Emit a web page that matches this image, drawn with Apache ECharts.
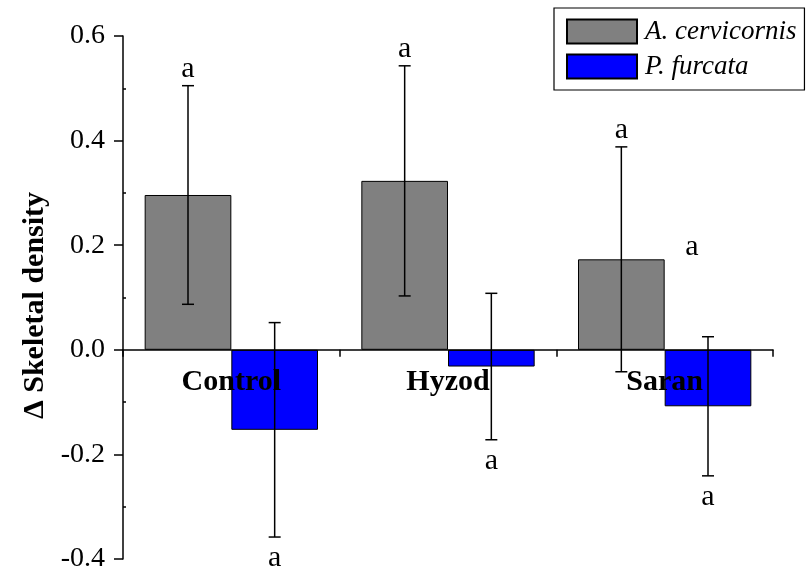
<!DOCTYPE html>
<html>
<head>
<meta charset="utf-8">
<script src="https://cdn.jsdelivr.net/npm/echarts@6/dist/echarts.min.js"></script>
<style>html,body{margin:0;padding:0;background:#fff;}#c{width:809px;height:571px;}</style>
</head>
<body>
<div id="c"></div>
<script>
const categories = ['Control', 'Hyzod', 'Saran'];
const cervicornis = [0.296, 0.323, 0.173];
const furcata = [-0.153, -0.032, -0.108];
const cervicornisErr = [0.209, 0.220, 0.215];
const furcataErr = [0.205, 0.140, 0.133];
const cervicornisLetters = ['a', 'a', 'a'];
const furcataLetters = ['a', 'a', 'a'];
const strayLetters = [{ category: 'Saran', value: 0.2, text: 'a' }];
const yTicks = [-0.4, -0.2, 0.0, 0.2, 0.4, 0.6];

const FONT = '"Liberation Serif", "Times New Roman", "DejaVu Serif", serif';
const chart = echarts.init(document.getElementById('c'), null, { renderer: 'canvas' });

function errData(means, errs, side) {
  return means.map((m, i) => [i, m, errs[i], side]);
}

function renderErr(params, api) {
  const i = api.value(0), m = api.value(1), e = api.value(2), side = api.value(3);
  const band = api.size([1, 0])[0];
  const x = api.coord([i, m])[0] + side * band * 0.2;
  const yTop = api.coord([i, m + e])[1];
  const yBot = api.coord([i, m - e])[1];
  const cap = 6;
  const st = { stroke: '#000', lineWidth: 1.5 };
  const letter = params.seriesIndex === 2 ? cervicornisLetters[i] : furcataLetters[i];
  const above = m >= 0;
  return {
    type: 'group',
    children: [
      { type: 'line', shape: { x1: x, y1: yTop, x2: x, y2: yBot }, style: st },
      { type: 'line', shape: { x1: x - cap, y1: yTop, x2: x + cap, y2: yTop }, style: st },
      { type: 'line', shape: { x1: x - cap, y1: yBot, x2: x + cap, y2: yBot }, style: st },
      { type: 'text', x: x, y: above ? yTop - 17 : yBot + 21,
        style: { text: letter, font: '30px ' + FONT, fill: '#000', textAlign: 'center', textVerticalAlign: 'middle' } }
    ]
  };
}

function renderCat(params, api) {
  const i = api.value(0);
  const p = api.coord([i, 0]);
  return {
    type: 'text', x: p[0], y: p[1] + 32,
    style: { text: categories[i], font: 'bold 30px ' + FONT, fill: '#000', textAlign: 'center', textVerticalAlign: 'middle' }
  };
}

const option = {
  animation: false,
  backgroundColor: '#fff',
  textStyle: { fontFamily: FONT },
  grid: { left: 123, right: 36, top: 36, bottom: 12, containLabel: false, outerBoundsMode: 'none' },
  legend: {
    orient: 'vertical', left: 554, top: 8,
    padding: [10, 8, 10, 12],
    itemGap: 8, itemWidth: 70, itemHeight: 24,
    borderColor: '#000', borderWidth: 1.2,
    icon: 'rect',
    textStyle: { fontFamily: FONT, fontSize: 27, fontStyle: 'italic', color: '#000', padding: [0, 0, 0, 3] },
    data: ['A. cervicornis', 'P. furcata']
  },
  xAxis: {
    type: 'category', data: categories, z: 3,
    axisLine: { onZero: true, lineStyle: { color: '#000', width: 1.5 } },
    axisTick: { show: true, length: 7, lineStyle: { color: '#000', width: 1.5 } },
    axisLabel: { show: false },
    splitLine: { show: false }
  },
  yAxis: [{
    type: 'value', min: yTicks[0], max: yTicks[yTicks.length - 1], interval: 0.2,
    name: 'Δ Skeletal density', nameLocation: 'middle', nameGap: 72, nameRotate: 90,
    nameTextStyle: { fontFamily: FONT, fontSize: 30, fontWeight: 'bold', color: '#000', padding: [0, 16, 0, 0] },
    axisLine: { show: true, onZero: false, lineStyle: { color: '#000', width: 1.5 } },
    axisTick: { show: true, length: 9, lineStyle: { color: '#000', width: 1.5 } },
    axisLabel: { fontFamily: FONT, fontSize: 28, color: '#000', margin: 18, formatter: v => v.toFixed(1) },
    splitLine: { show: false }
  }, {
    type: 'value', min: yTicks[0], max: yTicks[yTicks.length - 1], interval: 0.2, position: 'left',
    axisLine: { show: false }, axisLabel: { show: false }, splitLine: { show: false },
    axisTick: { show: false, inside: true },
    minorTick: { show: true, splitNumber: 2, length: 3, lineStyle: { color: '#000', width: 1.5 } },
    minorSplitLine: { show: false }
  }],
  series: [
    {
      name: 'A. cervicornis', type: 'bar', data: cervicornis,
      barCategoryGap: '20%', barGap: '0%',
      itemStyle: { color: '#808080', borderColor: '#000', borderWidth: 1 }
    },
    {
      name: 'P. furcata', type: 'bar', data: furcata,
      barCategoryGap: '20%', barGap: '0%',
      itemStyle: { color: '#0000ff', borderColor: '#000', borderWidth: 1 },
      markPoint: {
        symbol: 'rect', symbolSize: 0,
        label: { show: true, position: 'inside', offset: [-16, 2], fontFamily: FONT, fontSize: 30, color: '#000', formatter: p => p.name },
        data: strayLetters.map(s => ({ name: s.text, coord: [s.category, s.value] }))
      }
    },
    { type: 'custom', renderItem: renderErr, data: errData(cervicornis, cervicornisErr, -1), z: 5, silent: true },
    { type: 'custom', renderItem: renderErr, data: errData(furcata, furcataErr, 1), z: 5, silent: true },
    { type: 'custom', renderItem: renderCat, data: categories.map((c, i) => [i, 0]), z: 4, silent: true }
  ]
};
chart.setOption(option);
</script>
</body>
</html>
